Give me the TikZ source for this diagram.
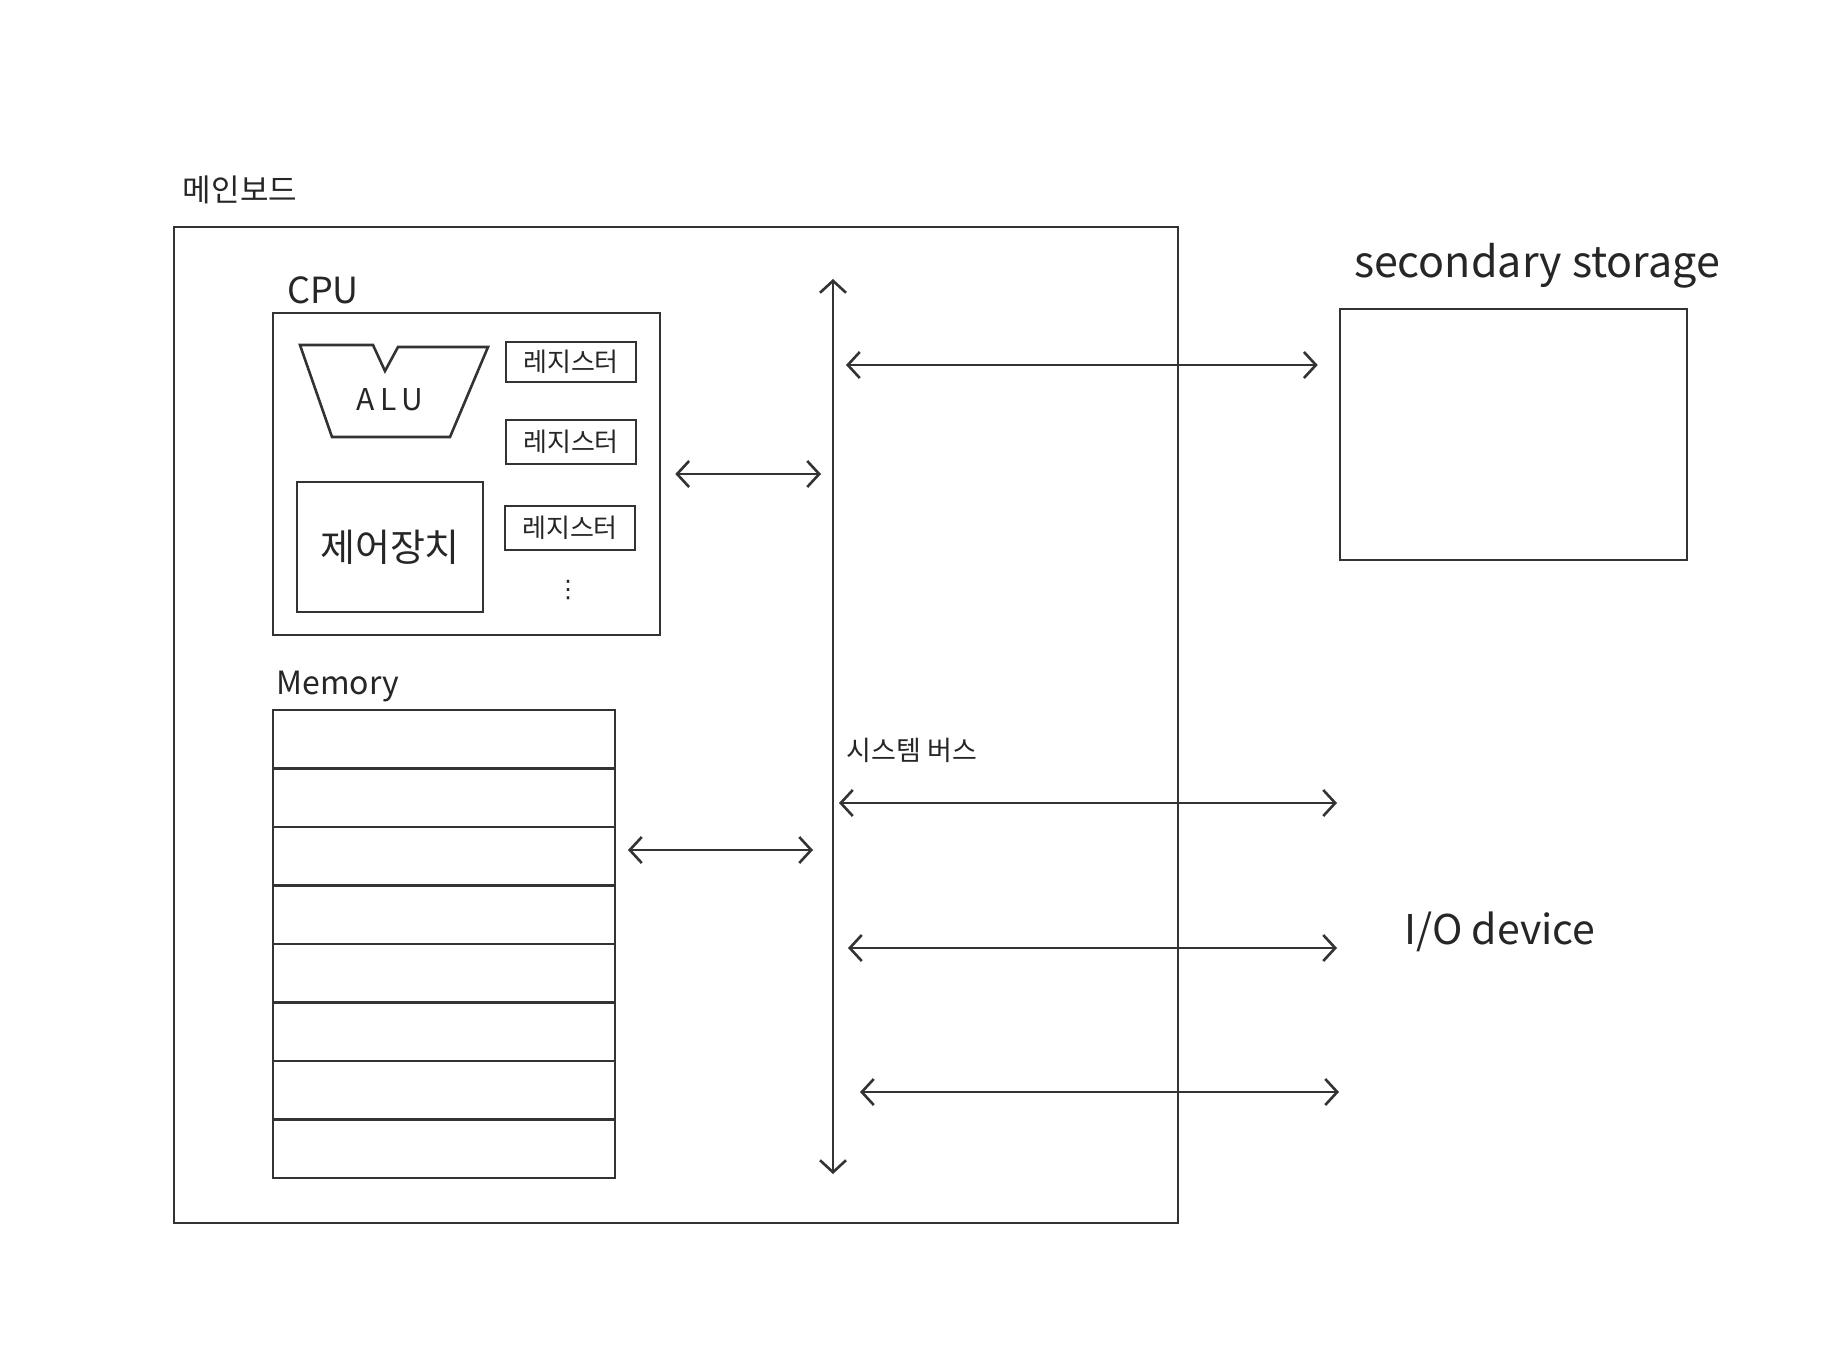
\documentclass[tikz,border=0pt]{standalone}
\usepackage{fontspec}
\setmainfont{Noto Sans CJK KR}
\newfontfamily\symfont{DejaVu Sans}
\usetikzlibrary{arrows.meta}
\begin{document}
\begin{tikzpicture}[x=0.5pt,y=-0.5pt,
  pen/.style={draw=black!80, line width=1.3pt},
  box/.style={pen, rectangle, inner sep=0pt},
  fs/.style={font=\fontsize{#1}{#1}\selectfont, text=black!85},
  biarrow/.style={pen, {Straight Barb[length=6pt,width=13pt]}-{Straight Barb[length=6pt,width=13pt]}},
]
\useasboundingbox (0,0) rectangle (1847,1354);
\fill[white] (0,0) rectangle (1847,1354);

% mainboard
\node[box, minimum width=502pt, minimum height=498pt] (board) at (676,725) {};
\node[fs=15.5pt] (boardlbl) at (240,190) {메인보드};

% CPU
\node[box, minimum width=193.5pt, minimum height=161pt] (cpu) at (466.5,474) {};
\node[fs=18pt] (cpulbl) at (323,290) {CPU};
\draw[pen] (300,345) -- (373,345) -- (385,371) -- (398,347) -- (488,347)
  -- (450,437) -- (332,437) -- cycle;
\node[fs=15pt] (alu) at (390,400) {A\,L\,U};
\node[box, minimum width=65pt, minimum height=20pt, fs=13pt] (r1) at (571,362) {레지스터};
\node[box, minimum width=65pt, minimum height=22pt, fs=13pt] (r2) at (571,442) {레지스터};
\node[box, minimum width=65pt, minimum height=22pt, fs=13pt] (r3) at (570,528) {레지스터};
\node[fs=12pt] (rdots) at (568,590) {\symfont ⋮};
\node[box, minimum width=93pt, minimum height=65pt, fs=19pt] (ctrl) at (390,547) {제어장치};

% Memory
\node[fs=16pt] (memlbl) at (338,687) {Memory};
\foreach \k in {1,...,8}{
  \node[box, minimum width=171pt, minimum height=29.25pt] (m\k) at (444,{710+29.25*(2*\k-1)}) {};
}

% system bus
\coordinate (bustop) at (833,279);
\coordinate (busbot) at (833,1174);
\draw[biarrow] (bustop) -- (busbot);
\node[fs=13.5pt] (buslbl) at (912,750) {시스템 버스};

% CPU <-> bus
\draw[biarrow, shorten <=7pt, shorten >=6pt] (cpu.east) -- (cpu.east -| bustop);
% Memory <-> bus
\coordinate (memtap) at (615,850);
\draw[biarrow, shorten <=6.5pt, shorten >=10pt] (memtap) -- (memtap -| bustop);

% secondary storage
\node[box, minimum width=173.5pt, minimum height=125.5pt] (stor) at (1513.5,434.5) {};
\node[fs=21.5pt] (storlbl) at (1537,266) {secondary storage};
\coordinate (s1) at (846,365);
\draw[biarrow, shorten >=10.5pt] (s1) -- (s1 -| stor.west);

% I/O
\node[fs=20.5pt] (iolbl) at (1500,932) {I/O device};
\coordinate (ioa1) at (839,803);  \coordinate (iob1) at (1337,803);
\coordinate (ioa2) at (848,948);  \coordinate (iob2) at (1337,948);
\coordinate (ioa3) at (860,1092); \coordinate (iob3) at (1339,1092);
\draw[biarrow] (ioa1) -- (iob1);
\draw[biarrow] (ioa2) -- (iob2);
\draw[biarrow] (ioa3) -- (iob3);
\end{tikzpicture}
\end{document}
